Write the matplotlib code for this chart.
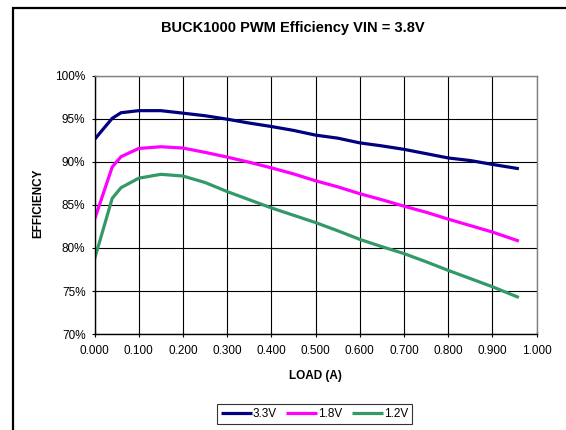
import numpy as np
import matplotlib
matplotlib.use('Agg')
import matplotlib.pyplot as plt
from matplotlib.patches import Rectangle

plt.rcParams['font.family'] = ['Liberation Sans', 'DejaVu Sans']

# --- Data
load = [0.0, 0.04, 0.06, 0.10, 0.15, 0.20, 0.25, 0.30, 0.35, 0.40, 0.45,
        0.50, 0.55, 0.60, 0.65, 0.70, 0.75, 0.80, 0.85, 0.90, 0.96]
eff33 = [92.6, 95.05, 95.7, 95.94, 95.94, 95.65, 95.35, 94.95, 94.5, 94.1, 93.65,
         93.1, 92.75, 92.2, 91.85, 91.45, 90.95, 90.45, 90.15, 89.7, 89.2]
eff18 = [83.3, 89.4, 90.6, 91.55, 91.75, 91.6, 91.1, 90.55, 89.95, 89.3, 88.6,
         87.8, 87.1, 86.3, 85.6, 84.85, 84.15, 83.35, 82.6, 81.85, 80.8]
eff12 = [78.7, 85.76, 87.0, 88.1, 88.55, 88.35, 87.6, 86.55, 85.6, 84.65, 83.8,
         82.95, 82.0, 81.0, 80.15, 79.35, 78.4, 77.4, 76.45, 75.5, 74.25]
labels = ['3.3V', '1.8V', '1.2V']
colors = ['#000080', '#FF00FF', '#339966']

xticks = np.arange(0, 1.0001, 0.1)
yticks = np.arange(70, 100.001, 5)

# --- Plot
fig = plt.figure(figsize=(5.66, 4.30), dpi=100)
ax = fig.add_axes([0.167, 0.223, 0.781, 0.601])

for y, lab, col in zip([eff33, eff18, eff12], labels, colors):
    ax.plot(load, y, '-', color=col, lw=2.3, label=lab, solid_capstyle='butt')

ax.set_xlim(0, 1.0)
ax.set_ylim(70, 100)
ax.set_xticks(xticks)
ax.set_xticklabels(['%.3f' % v for v in xticks])
ax.set_yticks(yticks)
ax.set_yticklabels(['%d%%' % v for v in yticks])
ax.grid(True, color='black', lw=0.8)
ax.set_axisbelow(True)
ax.tick_params(labelsize=8.5, direction='inout', length=5, width=0.8, pad=4)
ax.tick_params(axis='x', pad=5)
for s in ['top', 'right']:
    ax.spines[s].set_color('#808080')
    ax.spines[s].set_linewidth(1.0)
for s in ['left', 'bottom']:
    ax.spines[s].set_color('black')
    ax.spines[s].set_linewidth(1.0)

fig.text(293 / 566, 1 - 28 / 430, 'BUCK1000 PWM Efficiency VIN = 3.8V', fontsize=10.5,
         fontweight='bold', ha='center', va='center')
ax.set_xlabel('LOAD (A)', fontsize=8.5, fontweight='bold', labelpad=10)
fig.text(38 / 566, 1 - 203 / 430, 'EFFICIENCY', fontsize=8.5, fontweight='bold',
         rotation=90, ha='center', va='center')

leg = ax.legend(loc='center', bbox_to_anchor=(314.5 / 566, 16 / 430), bbox_transform=fig.transFigure,
                ncol=3, fontsize=8.5, frameon=True, fancybox=False, handlelength=2.6,
                handletextpad=0.1, columnspacing=0.8, borderpad=0.35, edgecolor='black')
leg.get_frame().set_linewidth(0.8)

# outer chart frame (left and top visible)
fig.patches.append(Rectangle((13 / 566, -0.1), 1.1, (430 - 8) / 430 + 0.1,
                             transform=fig.transFigure, fill=False, lw=1.6, ec='black'))

fig.savefig('out.png', dpi=100)
